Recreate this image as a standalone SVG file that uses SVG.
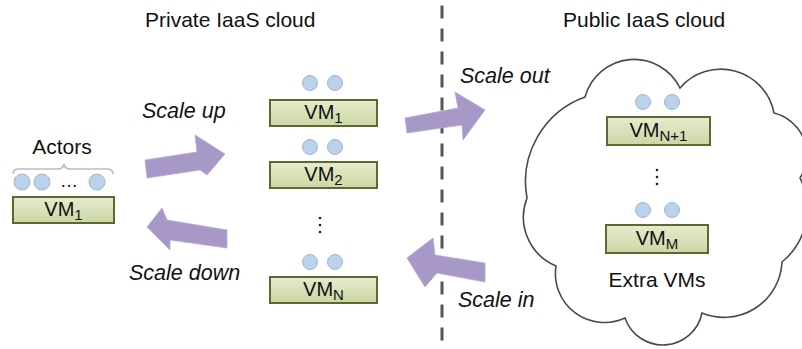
<svg xmlns="http://www.w3.org/2000/svg" width="802" height="349" viewBox="0 0 802 349">
<defs>
<linearGradient id="boxg" x1="0" y1="0" x2="0" y2="1">
<stop offset="0" stop-color="#e6ecce"/>
<stop offset="1" stop-color="#ccd6a5"/>
</linearGradient>
<style>
text{font-family:"Liberation Sans",Arial,sans-serif;fill:#111;}
.lbl{font-size:21px;}
.it{font-size:21.5px;font-style:italic;}
.vm{font-size:20px;text-anchor:middle;}
.sub{font-size:15px;}
.box{fill:url(#boxg);stroke:#5b6b30;stroke-width:2;}
.dot{fill:#bcd2ea;stroke:#9fb5d0;stroke-width:1;}
.arrow{fill:#a898c8;stroke:#b7aad3;stroke-width:0.8;}
.sep{stroke:#555;stroke-width:3;stroke-dasharray:13 10;fill:none;}
.cloud{fill:#fff;stroke:#4a4a4a;stroke-width:1.6;}
.brace{fill:none;stroke:#b5bdc5;stroke-width:1.6;}
.ell{font-size:18px;text-anchor:middle;}
</style>
</defs>

<rect width="802" height="349" fill="#fff"/>

<g id="cloud-shape">
<path class="cloud" d="M585,97 A51,51 0 0 1 680,88 A54,54 0 0 1 774,113 A43,43 0 0 1 800,178 A69,69 0 0 1 782,262 A58,58 0 0 1 702,313 A40,40 0 0 1 625,318 A49,49 0 0 1 556,266 A53,53 0 0 1 527,198 A90,90 0 0 1 585,97 Z"/>
</g>

<g id="separator">
<line class="sep" x1="442" y1="5.5" x2="442" y2="349"/>
</g>

<g id="titles">
<text class="lbl" x="145" y="27">Private IaaS cloud</text>
<text class="lbl" x="563" y="27">Public IaaS cloud</text>
</g>

<g id="actors">
<text class="lbl" x="62" y="154" text-anchor="middle">Actors</text>
<path class="brace" d="M13,174 Q13,169 19,169 L58,169 Q63,169 64,164 Q65,169 70,169 L107,169 Q113,169 113,174"/>
<circle class="dot" cx="22" cy="182" r="8"/>
<circle class="dot" cx="42" cy="182" r="8"/>
<text class="ell" x="69" y="187">…</text>
<circle class="dot" cx="97" cy="182" r="8"/>
<rect class="box" x="13" y="197" width="101" height="26"/>
<text class="vm" x="63.5" y="216">VM<tspan class="sub" dy="4">1</tspan></text>
</g>

<g id="private-vm1">
<circle class="dot" cx="310" cy="83" r="7.5"/>
<circle class="dot" cx="335" cy="83" r="7.5"/>
<rect class="box" x="270" y="100" width="107" height="26"/>
<text class="vm" x="323.5" y="119">VM<tspan class="sub" dy="4">1</tspan></text>
</g>

<g id="private-vm2">
<circle class="dot" cx="310" cy="147" r="7.5"/>
<circle class="dot" cx="335" cy="147" r="7.5"/>
<rect class="box" x="270" y="162" width="107" height="26"/>
<text class="vm" x="323.5" y="181">VM<tspan class="sub" dy="4">2</tspan></text>
</g>

<g id="private-dots">
<circle cx="320" cy="218" r="1.3" fill="#222"/>
<circle cx="320" cy="225" r="1.3" fill="#222"/>
<circle cx="320" cy="232" r="1.3" fill="#222"/>
</g>

<g id="private-vmn">
<circle class="dot" cx="310" cy="262" r="7.5"/>
<circle class="dot" cx="335" cy="262" r="7.5"/>
<rect class="box" x="270" y="277" width="107" height="26"/>
<text class="vm" x="323.5" y="296">VM<tspan class="sub" dy="4">N</tspan></text>
</g>

<g id="public-vmn1">
<circle class="dot" cx="643" cy="102" r="7.5"/>
<circle class="dot" cx="672" cy="102" r="7.5"/>
<rect class="box" x="607" y="117" width="103" height="28"/>
<text class="vm" x="658.5" y="137">VM<tspan class="sub" dy="4">N+1</tspan></text>
</g>

<g id="public-dots">
<circle cx="657" cy="170" r="1.3" fill="#222"/>
<circle cx="657" cy="177" r="1.3" fill="#222"/>
<circle cx="657" cy="184" r="1.3" fill="#222"/>
</g>

<g id="public-vmm">
<circle class="dot" cx="643" cy="210" r="7.5"/>
<circle class="dot" cx="672" cy="210" r="7.5"/>
<rect class="box" x="606" y="225" width="102" height="28"/>
<text class="vm" x="657" y="245">VM<tspan class="sub" dy="4">M</tspan></text>
<text class="lbl" x="657" y="287" text-anchor="middle">Extra VMs</text>
</g>

<g id="connectors">
<polygon class="arrow" points="145,160 197,152 195,135 225,154 207,175 200,170 147,178"/>
<polygon class="arrow" points="147,227 162,208 167,220 227,230 227,248 170,240 170,250"/>
<polygon class="arrow" points="405,118 458,108 455,92 485,110 463,140 462,125 407,133"/>
<polygon class="arrow" points="407,258 433,238 435,255 485,263 485,282 437,273 425,287"/>
<text class="it" x="142" y="118">Scale up</text>
<text class="it" x="129" y="280">Scale down</text>
<text class="it" x="460" y="83">Scale out</text>
<text class="it" x="458" y="307">Scale in</text>
</g>
</svg>
